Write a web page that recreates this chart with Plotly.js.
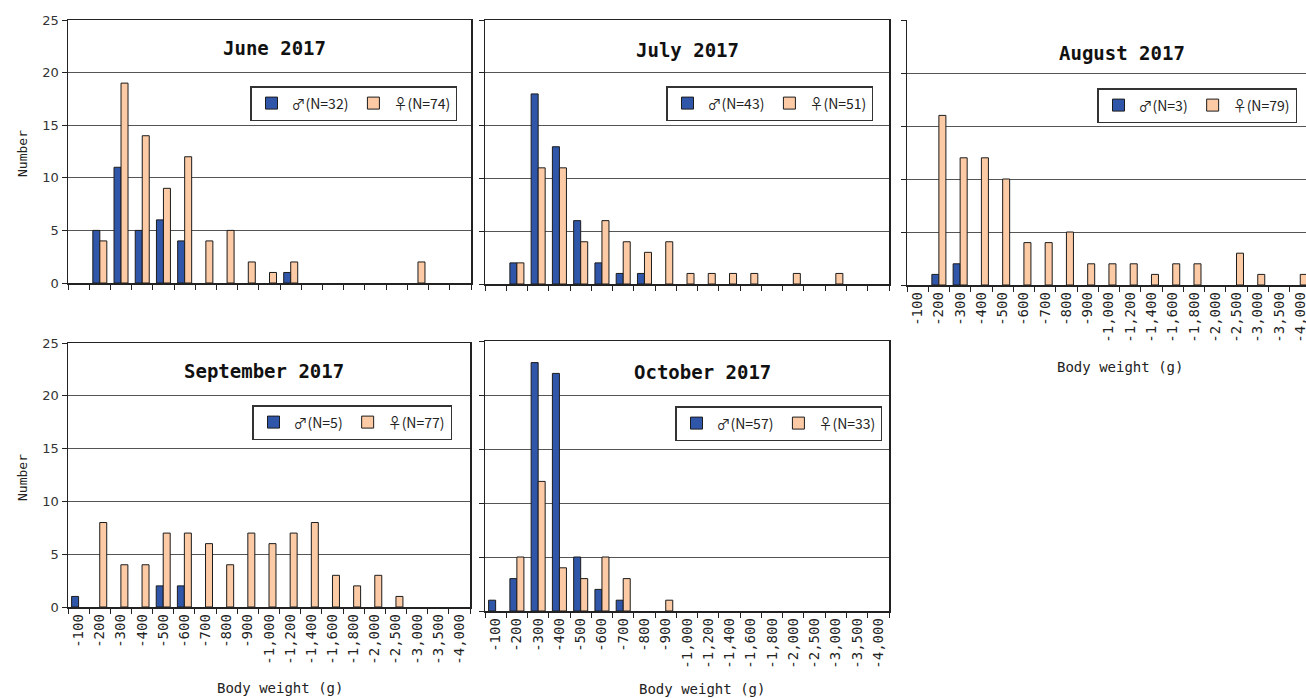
<!DOCTYPE html>
<html>
<head>
<meta charset="utf-8">
<script src="https://cdn.plot.ly/plotly-3.0.1.min.js"></script>
<style>html,body{margin:0;padding:0;background:#fff;}#chart{width:1306px;height:698px;}</style>
</head>
<body>
<div id="chart"></div>
<script>
const categories = ['-100','-200','-300','-400','-500','-600','-700','-800','-900','-1,000','-1,200','-1,400','-1,600','-1,800','-2,000','-2,500','-3,000','-3,500','-4,000'];

const months = ['June 2017','July 2017','August 2017','September 2017','October 2017'];

const juneMale   = [0,5,11,5,6,4,0,0,0,0,1,0,0,0,0,0,0,0,0];
const juneFemale = [0,4,19,14,9,12,4,5,2,1,2,0,0,0,0,0,2,0,0];
const julyMale   = [0,2,18,13,6,2,1,1,0,0,0,0,0,0,0,0,0,0,0];
const julyFemale = [0,2,11,11,4,6,4,3,4,1,1,1,1,0,1,0,1,0,0];
const augMale    = [0,1,2,0,0,0,0,0,0,0,0,0,0,0,0,0,0,0,0];
const augFemale  = [0,16,12,12,10,4,4,5,2,2,2,1,2,2,0,3,1,0,1];
const sepMale    = [1,0,0,0,2,2,0,0,0,0,0,0,0,0,0,0,0,0,0];
const sepFemale  = [0,8,4,4,7,7,6,4,7,6,7,8,3,2,3,1,0,0,0];
const octMale    = [1,3,23,22,5,2,1,0,0,0,0,0,0,0,0,0,0,0,0];
const octFemale  = [0,5,12,4,3,5,3,0,1,0,0,0,0,0,0,0,0,0,0];

const maleLabels   = ['♂(N=32)','♂(N=43)','♂(N=3)','♂(N=5)','♂(N=57)'];
const femaleLabels = ['♀(N=74)','♀(N=51)','♀(N=79)','♀(N=77)','♀(N=33)'];

const maleSeries = [juneMale, julyMale, augMale, sepMale, octMale];
const femaleSeries = [juneFemale, julyFemale, augFemale, sepFemale, octFemale];

const W = 1306, H = 698;
// panel pixel boxes: left, right, top, bottom
const panels = [
  {l:68,  r:471,  t:20,  b:283, ylab:true,  xlab:false, xr:18.5, legR:457, legT:86,  tx:274, ty:48},
  {l:485, r:889,  t:20,  b:284, ylab:false, xlab:false, xr:18.5, legR:873, legT:86,  tx:687, ty:50},
  {l:907, r:1306, t:20,  b:285, ylab:false, xlab:true,  xr:18.27, legR:1297, legT:88, tx:1122, ty:53},
  {l:68,  r:470,  t:343, b:607, ylab:true,  xlab:true,  xr:18.5, legR:452, legT:405, tx:264, ty:371},
  {l:485, r:889,  t:341, b:611, ylab:false, xlab:true,  xr:18.5, legR:882, legT:406, tx:702, ty:372}
];

const maleColor = '#2f56a8', femaleColor = '#fccaa4', edge = '#1c1c1c';
const traces = [];
const layout = {
  width: W, height: H,
  margin: {l:0, r:0, t:0, b:0},
  paper_bgcolor: '#fff', plot_bgcolor: '#fff',
  barmode: 'group', bargap: 0.34, bargroupgap: 0,
  annotations: [], font: {family: 'DejaVu Sans', color: '#222'}
};
const monoFont = 'DejaVu Sans Mono, Liberation Mono, monospace';
// empty bins are left undrawn (no outline at zero)
const nonEmpty = vals => vals.map(v => v > 0 ? v : null);

panels.forEach((p, i) => {
  const n = i + 1;
  const xa = n === 1 ? 'x' : 'x' + n;
  const ya = n === 1 ? 'y' : 'y' + n;
  const lg = n === 1 ? 'legend' : 'legend' + n;
  traces.push({type:'bar', x:categories, y:nonEmpty(maleSeries[i]), name:maleLabels[i], xaxis:xa, yaxis:ya, legend:lg,
    marker:{color:maleColor, line:{color:edge, width:1}}, hoverinfo:'x+y'});
  traces.push({type:'bar', x:categories, y:nonEmpty(femaleSeries[i]), name:femaleLabels[i], xaxis:xa, yaxis:ya, legend:lg,
    marker:{color:femaleColor, line:{color:edge, width:1}}, hoverinfo:'x+y'});
  layout[n === 1 ? 'xaxis' : 'xaxis' + n] = {
    domain:[p.l / W, Math.min(p.r / W, 1)], anchor: ya,
    type:'category', range:[-0.5, p.xr], tickson:'boundaries',
    ticks:'outside', ticklen:5, tickcolor:'#222', showline:true, linecolor:'#222', linewidth:1.5,
    mirror: i === 2 ? false : true, showgrid:false, tickangle:-90,
    showticklabels: p.xlab, tickfont:{family:monoFont, size:14, color:'#222'}, fixedrange:true
  };
  layout[n === 1 ? 'yaxis' : 'yaxis' + n] = {
    domain:[1 - p.b / H, 1 - p.t / H], anchor: xa,
    range:[0, 25], dtick:5, ticks:'outside', ticklen:5, tickcolor:'#222',
    showline:true, linecolor:'#222', linewidth:1.5, mirror: i === 2 ? false : true,
    showgrid:true, gridcolor:'#555', gridwidth:1, zeroline:false,
    showticklabels: p.ylab, tickfont:{family:'DejaVu Sans', size:13, color:'#333'}, fixedrange:true
  };
  layout[lg] = {
    x: p.legR / W, xanchor:'right', y: 1 - p.legT / H, yanchor:'top',
    orientation:'h', bgcolor:'#fff', bordercolor:'#333', borderwidth:1.5,
    font:{family:'Noto Sans CJK JP, DejaVu Sans', size:14, color:'#222'},
    itemwidth:30, tracegroupgap:0
  };
  layout.annotations.push({
    text:'<b>' + months[i] + '</b>', x:p.tx / W, y:1 - p.ty / H, xref:'paper', yref:'paper',
    xanchor:'center', yanchor:'middle', showarrow:false,
    font:{family:monoFont, size:19, color:'#111'}
  });
});

// axis titles
const yTitles = [{y:154}, {y:478}];
yTitles.forEach(t => layout.annotations.push({
  text:'Number', x:22 / W, y:1 - t.y / H, xref:'paper', yref:'paper', textangle:-90,
  xanchor:'center', yanchor:'middle', showarrow:false, font:{family:monoFont, size:13, color:'#222'}
}));
const xTitles = [{x:1120, y:367}, {x:280, y:688}, {x:702, y:689}];
xTitles.forEach(t => layout.annotations.push({
  text:'Body weight (g)', x:t.x / W, y:1 - t.y / H, xref:'paper', yref:'paper',
  xanchor:'center', yanchor:'middle', showarrow:false, font:{family:monoFont, size:14, color:'#222'}
}));

Plotly.newPlot('chart', traces, layout, {displayModeBar:false, staticPlot:true});
</script>
</body>
</html>
